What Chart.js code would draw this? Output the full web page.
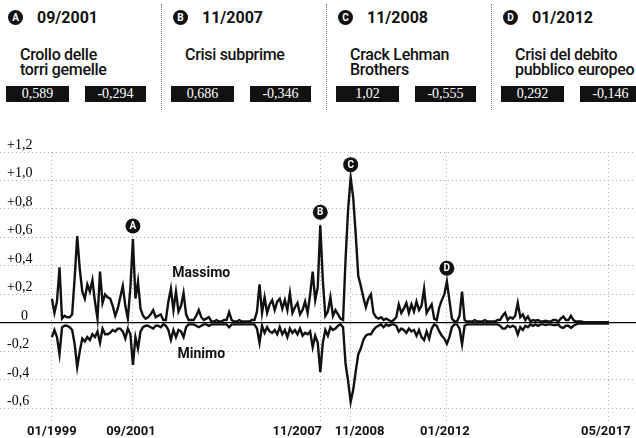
<!DOCTYPE html>
<html>
<head>
<meta charset="utf-8">
<script src="https://cdn.jsdelivr.net/npm/chart.js@4.4.0/dist/chart.umd.min.js"></script>
<style>
html, body { margin: 0; padding: 0; background: #fff; }
#wrap { position: relative; width: 636px; height: 438px; overflow: hidden; font-family: Roboto, "Liberation Sans", sans-serif; color: #111; }
.col { position: absolute; top: 0; width: 160px; height: 115px; }
.dot { position: absolute; left: 0; top: 10px; width: 15px; height: 15px; border-radius: 50%; background: #111; color: #fff; font: bold 10px Roboto, sans-serif; line-height: 15px; text-align: center; }
.date { position: absolute; left: 29px; top: 8px; font-weight: 700; font-size: 16px; line-height: 20px; white-space: nowrap; }
.title { position: absolute; left: 12px; top: 47px; font-weight: 500; font-size: 16px; line-height: 15px; letter-spacing: -0.3px; white-space: nowrap; }
.box { position: absolute; top: 86px; height: 16px; background: #111; color: #fff; font: 14px "Liberation Serif", serif; line-height: 16px; text-align: center; }
.sep { position: absolute; top: 4px; height: 106px; border-left: 1px dotted #777; }
#chart { position: absolute; left: 0; top: 130px; }
</style>
</head>
<body>
<div id="wrap">
  <canvas id="chart" width="636" height="308"></canvas>
</div>
<script>
// events shown in the header and on the chart
const eventLetters = ['A', 'B', 'C', 'D'];
const eventDates = ['09/2001', '11/2007', '11/2008', '01/2012'];
const eventTitles = [['Crollo delle', 'torri gemelle'], ['Crisi subprime'], ['Crack Lehman', 'Brothers'], ['Crisi del debito', 'pubblico europeo']];
const eventMonths = [32, 106, 118, 156];
const eventMax = [0.589, 0.686, 1.02, 0.292];
const eventMin = [-0.294, -0.346, -0.555, -0.146];

// x axis ticks (months counted from 01/1999)
const tickMonths = [0, 32, 106, 118, 156, 220];
const tickLabels = ['01/1999', '09/2001', '11/2007', '11/2008', '01/2012', '05/2017'];

// y axis ticks
const yTickValues = [-0.6, -0.4, -0.2, 0, 0.2, 0.4, 0.6, 0.8, 1.0, 1.2];
const yTickLabels = ['-0,6', '-0,4', '-0,2', '0', '+0,2', '+0,4', '+0,6', '+0,8', '+1,0', '+1,2'];

// monthly values, one row per year, 01/1999 - 05/2017
const maxValues = [
  0.17, 0.07, 0.15, 0.39, 0.03, 0.05, 0.04, 0.04, 0.06, 0.32, 0.61, 0.38,
  0.22, 0.17, 0.27, 0.22, 0.30, 0.15, 0.03, 0.36, 0.14, 0.20, 0.18, 0.17,
  0.12, 0.05, 0.10, 0.18, 0.26, 0.12, 0.03, 0.25, 0.589, 0.17, 0.29, 0.10,
  0.05, 0.03, 0.04, 0.06, 0.09, 0.04, 0.05, 0.06, 0.02, 0.02, 0.15, 0.24,
  0.09, 0.22, 0.08, 0.12, 0.21, 0.06, 0.02, 0.02, 0.02, 0.05, 0.09, 0.04,
  0.02, 0.03, 0.04, 0.01, 0.01, 0.02, 0.01, 0.01, 0.02, 0.02, 0.075, 0.02,
  0.01, 0.01, 0.02, 0.01, 0.01, 0.01, 0.01, 0.02, 0.02, 0.08, 0.27, 0.07,
  0.18, 0.07, 0.13, 0.16, 0.09, 0.15, 0.17, 0.10, 0.16, 0.09, 0.21, 0.07,
  0.11, 0.14, 0.06, 0.09, 0.15, 0.07, 0.20, 0.36, 0.16, 0.25, 0.686, 0.30,
  0.05, 0.08, 0.18, 0.05, 0.09, 0.06, 0.03, 0.02, 0.45, 0.80, 1.02, 0.88,
  0.62, 0.33, 0.26, 0.18, 0.11, 0.17, 0.20, 0.07, 0.04, 0.03, 0.04, 0.02,
  0.03, 0.02, 0.01, 0.02, 0.04, 0.13, 0.07, 0.10, 0.14, 0.07, 0.13, 0.08,
  0.15, 0.09, 0.12, 0.24, 0.07, 0.10, 0.13, 0.03, 0.02, 0.11, 0.16, 0.20,
  0.292, 0.16, 0.03, 0.01, 0.01, 0.05, 0.22, 0.02, 0.01, 0.01, 0.01, 0.02,
  0.01, 0.01, 0.01, 0.02, 0.01, 0.01, 0.01, 0.01, 0.02, 0.02, 0.05, 0.07,
  0.02, 0.04, 0.03, 0.05, 0.14, 0.04, 0.06, 0.02, 0.045, 0.01, 0.02, 0.015,
  0.02, 0.01, 0.01, 0.015, 0.01, 0.01, 0.02, 0.02, 0.01, 0.03, 0.045, 0.02,
  0.02, 0.05, 0.02, 0.01, 0.01, 0.01, 0.005, 0.005, 0.005, 0.005, 0.005, 0.005,
  0.005, 0.005, 0.005, 0.005, 0.005
];
const minValues = [
  -0.10, -0.05, -0.10, -0.22, -0.03, -0.02, -0.02, -0.03, -0.05, -0.15, -0.31, -0.20,
  -0.11, -0.13, -0.10, -0.12, -0.08, -0.10, -0.06, -0.14, -0.04, -0.08, -0.08, -0.07,
  -0.05, -0.06, -0.04, -0.04, -0.06, -0.11, -0.04, -0.08, -0.294, -0.10, -0.18, -0.06,
  -0.03, -0.02, -0.02, -0.03, -0.04, -0.02, -0.02, -0.03, -0.01, -0.02, -0.05, -0.12,
  -0.05, -0.10, -0.05, -0.06, -0.10, -0.03, -0.01, -0.01, -0.01, -0.02, -0.03, -0.02,
  -0.01, -0.01, -0.02, -0.01, -0.01, -0.01, -0.01, -0.01, -0.01, -0.01, -0.03, -0.01,
  -0.01, -0.01, -0.01, -0.01, -0.01, -0.01, -0.01, -0.01, -0.01, -0.04, -0.14, -0.02,
  -0.07, -0.03, -0.06, -0.07, -0.05, -0.08, -0.03, -0.08, -0.05, -0.10, -0.04, -0.07,
  -0.05, -0.08, -0.04, -0.09, -0.07, -0.08, -0.06, -0.17, -0.09, -0.14, -0.346, -0.14,
  -0.05, -0.09, -0.03, -0.05, -0.04, -0.02, -0.01, -0.03, -0.29, -0.41, -0.555, -0.47,
  -0.34, -0.22, -0.18, -0.12, -0.09, -0.08, -0.08, -0.05, -0.03, -0.02, -0.01, -0.03,
  -0.01, -0.02, -0.01, -0.01, -0.02, -0.06, -0.04, -0.05, -0.07, -0.04, -0.06, -0.05,
  -0.09, -0.05, -0.10, -0.12, -0.06, -0.11, -0.04, -0.01, -0.02, -0.06, -0.09, -0.11,
  -0.146, -0.10, -0.03, -0.01, -0.01, -0.04, -0.15, -0.02, -0.01, -0.01, -0.01, -0.01,
  -0.01, -0.01, -0.01, -0.01, -0.01, -0.01, -0.01, -0.01, -0.01, -0.02, -0.04, -0.04,
  -0.02, -0.03, -0.02, -0.03, -0.08, -0.03, -0.05, -0.02, -0.03, -0.01, -0.02, -0.01,
  -0.02, -0.01, -0.01, -0.015, -0.01, -0.01, -0.015, -0.015, -0.01, -0.03, -0.035, -0.02,
  -0.02, -0.035, -0.02, -0.01, -0.005, -0.005, -0.005, -0.005, -0.005, -0.005, -0.005, -0.005,
  -0.005, -0.005, -0.005, -0.005, -0.005
];

const fmt = v => String(v).replace('.', ',');

// header
const wrap = document.getElementById('wrap');
const colLeft = [8, 173, 338, 503];
eventLetters.forEach((letter, i) => {
    const col = document.createElement('div');
    col.className = 'col';
    col.style.left = colLeft[i] + 'px';
    col.innerHTML =
        '<div class="dot">' + letter + '</div>' +
        '<div class="date">' + eventDates[i] + '</div>' +
        '<div class="title">' + eventTitles[i].join('<br>') + '</div>' +
        '<div class="box" style="left:-2px;width:63px">' + fmt(eventMax[i]) + '</div>' +
        '<div class="box" style="left:77px;width:61px">' + fmt(eventMin[i]) + '</div>';
    wrap.appendChild(col);
    if (i > 0) {
        const sep = document.createElement('div');
        sep.className = 'sep';
        sep.style.left = (colLeft[i] - 12) + 'px';
        wrap.appendChild(sep);
    }
});

// nudges so the two close date labels do not collide (pixels)
const tickNudge = [0, -2, -23, 9, -2, -3];

// letters over the peaks, series names and the date labels
const annotate = {
    id: 'annotate',
    afterDatasetsDraw(chart) {
        const { ctx, chartArea, scales: { x, y } } = chart;
        ctx.save();
        eventMonths.forEach((m, i) => {
            const px = x.getPixelForValue(m);
            const py = y.getPixelForValue(eventMax[i]) - 13;
            ctx.beginPath();
            ctx.arc(px, py, 7.5, 0, Math.PI * 2);
            ctx.fillStyle = '#111';
            ctx.fill();
            ctx.fillStyle = '#fff';
            ctx.font = 'bold 10px Roboto, sans-serif';
            ctx.textAlign = 'center';
            ctx.textBaseline = 'middle';
            ctx.fillText(eventLetters[i], px, py + 0.5);
        });
        ctx.fillStyle = '#111';
        ctx.font = 'bold 14px Roboto, sans-serif';
        ctx.fillText(chart.data.datasets[0].label, x.getPixelForValue(59), y.getPixelForValue(0.35));
        ctx.fillText(chart.data.datasets[1].label, x.getPixelForValue(59), y.getPixelForValue(-0.225));

        ctx.font = 'bold 13px Roboto, sans-serif';
        tickMonths.forEach((m, i) => {
            ctx.fillText(tickLabels[i], x.getPixelForValue(m) + tickNudge[i], chartArea.bottom + 9);
        });
        ctx.restore();
    }
};

const ctx = document.getElementById('chart').getContext('2d');
const chart = new Chart(ctx, {
    type: 'line',
    data: {
        datasets: [{
            label: 'Massimo',
            data: maxValues.map((v, i) => ({ x: i, y: v })),
            borderColor: '#111',
            borderWidth: 2.4,
            pointRadius: 0,
            tension: 0
        }, {
            label: 'Minimo',
            data: minValues.map((v, i) => ({ x: i, y: v })),
            borderColor: '#111',
            borderWidth: 2.4,
            pointRadius: 0,
            tension: 0
        }]
    },
    options: {
        responsive: false,
        animation: false,
        devicePixelRatio: 1,
        layout: { padding: { top: 22, left: 0, right: 0, bottom: 15 } },
        plugins: { legend: { display: false }, tooltip: { enabled: false } },
        scales: {
            x: {
                type: 'linear',
                min: -20.5,
                max: 230.7,
                afterBuildTicks: s => { s.ticks = tickMonths.map(v => ({ value: v })); },
                ticks: { display: false },
                grid: { color: '#b0b0b0', drawTicks: false },
                border: { display: false, dash: [1, 3] }
            },
            y: {
                min: -0.7,
                max: 1.2,
                afterBuildTicks: s => { s.ticks = yTickValues.map(v => ({ value: v })); },
                afterFit: s => { s.width = 0; },
                ticks: {
                    mirror: true,
                    padding: 7,
                    labelOffset: -7,
                    color: '#000',
                    font: { family: '"Liberation Serif", serif', size: 14 },
                    // the zero label sits a little further in
                    callback: (v, i) => yTickValues[i] === 0 ? '    ' + yTickLabels[i] : yTickLabels[i]
                },
                grid: {
                    drawTicks: false,
                    color: c => (c.tick && c.tick.value === 0) ? '#000' : '#aaa',
                    lineWidth: c => (c.tick && c.tick.value === 0) ? 1.2 : 1
                },
                border: {
                    display: false,
                    dash: c => (c.tick && c.tick.value === 0) ? [] : [1, 3]
                }
            }
        }
    },
    plugins: [annotate]
});
</script>
</body>
</html>
